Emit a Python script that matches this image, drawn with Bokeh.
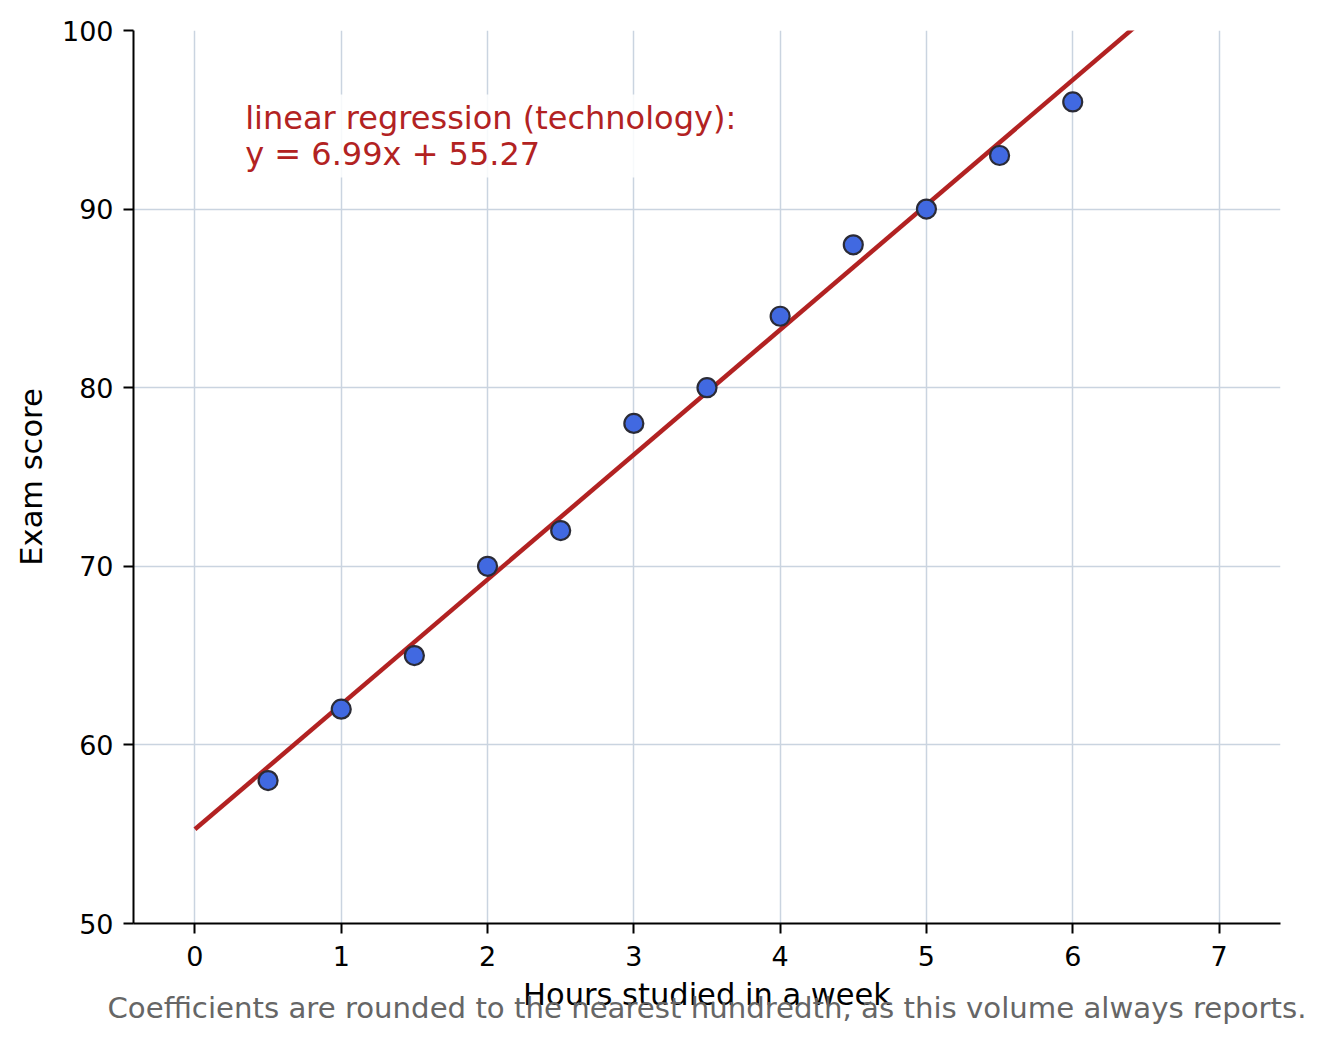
from bokeh.plotting import figure
from bokeh.models import Label, Range1d, Title
from bokeh.embed import file_html
from bokeh.resources import INLINE
import numpy as np

# hours studied vs exam score
hours = [0.5, 1.0, 1.5, 2.0, 2.5, 3.0, 3.5, 4.0, 4.5, 5.0, 5.5, 6.0]
scores = [58, 62, 65, 70, 72, 78, 80, 84, 88, 90, 93, 96]

x_ticks = [0, 1, 2, 3, 4, 5, 6, 7]
y_ticks = [50, 60, 70, 80, 90, 100]

FONT = "DejaVu Sans"
RED = "#b22222"

slope, intercept = np.polyfit(hours, scores, 1)
fit_x = np.array([0.0, 7.0])
fit_y = slope * fit_x + intercept

p = figure(frame_width=1147, frame_height=893, output_backend="svg",
           toolbar_location=None,
           x_range=Range1d(-0.42, 7.42), y_range=Range1d(50, 100),
           min_border_left=133, min_border_right=38,
           min_border_top=30, min_border_bottom=112)
p.outline_line_color = None
p.background_fill_color = "white"

# grid
for g in (p.xgrid, p.ygrid):
    g.grid_line_color = "#cad4e0"
    g.grid_line_width = 1.5

# axes
p.xaxis.ticker = x_ticks
p.yaxis.ticker = y_ticks
for ax in (p.xaxis, p.yaxis):
    ax.axis_line_width = 2
    ax.axis_line_color = "black"
    ax.major_tick_line_width = 2
    ax.major_tick_out = 10
    ax.major_tick_in = 0
    ax.minor_tick_line_color = None
    ax.major_label_text_font = FONT
    ax.major_label_text_font_size = "27px"
    ax.major_label_text_color = "black"
    ax.axis_label_text_font = FONT
    ax.axis_label_text_font_size = "30.5px"
    ax.axis_label_text_font_style = "normal"
    ax.axis_label_text_color = "black"
p.xaxis.axis_label = "Hours studied in a week"
p.yaxis.axis_label = "Exam score"
p.xaxis.major_label_standoff = 12
p.yaxis.major_label_standoff = 10
p.xaxis.axis_label_standoff = 8
p.yaxis.axis_label_standoff = 10

# regression line + points
p.line(fit_x, fit_y, line_color=RED, line_width=4.5)
p.scatter(hours, scores, size=19, fill_color="#4169e1",
          line_color="#2b2b36", line_width=2.2)

eq_text = "linear regression (technology):\ny = %.2fx + %.2f" % (slope, intercept)
p.add_layout(Label(x=0.316, y=96.41, text=eq_text, text_color=RED,
                   text_font=FONT, text_font_size="32px",
                   text_baseline="top", text_align="left",
                   text_line_height=0.97,
                   background_fill_color="white", background_fill_alpha=0.85,
                   padding=4))

# footer note sits under (and partly over) the x axis label, as in the source
footer = Title(text="Coefficients are rounded to the nearest hundredth, as this volume always reports.",
               align="center", vertical_align="top", text_color="#666666",
               text_font=FONT, text_font_size="29.2px", text_font_style="normal",
               standoff=-48)
p.add_layout(footer, "below")

open("out.html", "w").write(file_html(p, INLINE))
